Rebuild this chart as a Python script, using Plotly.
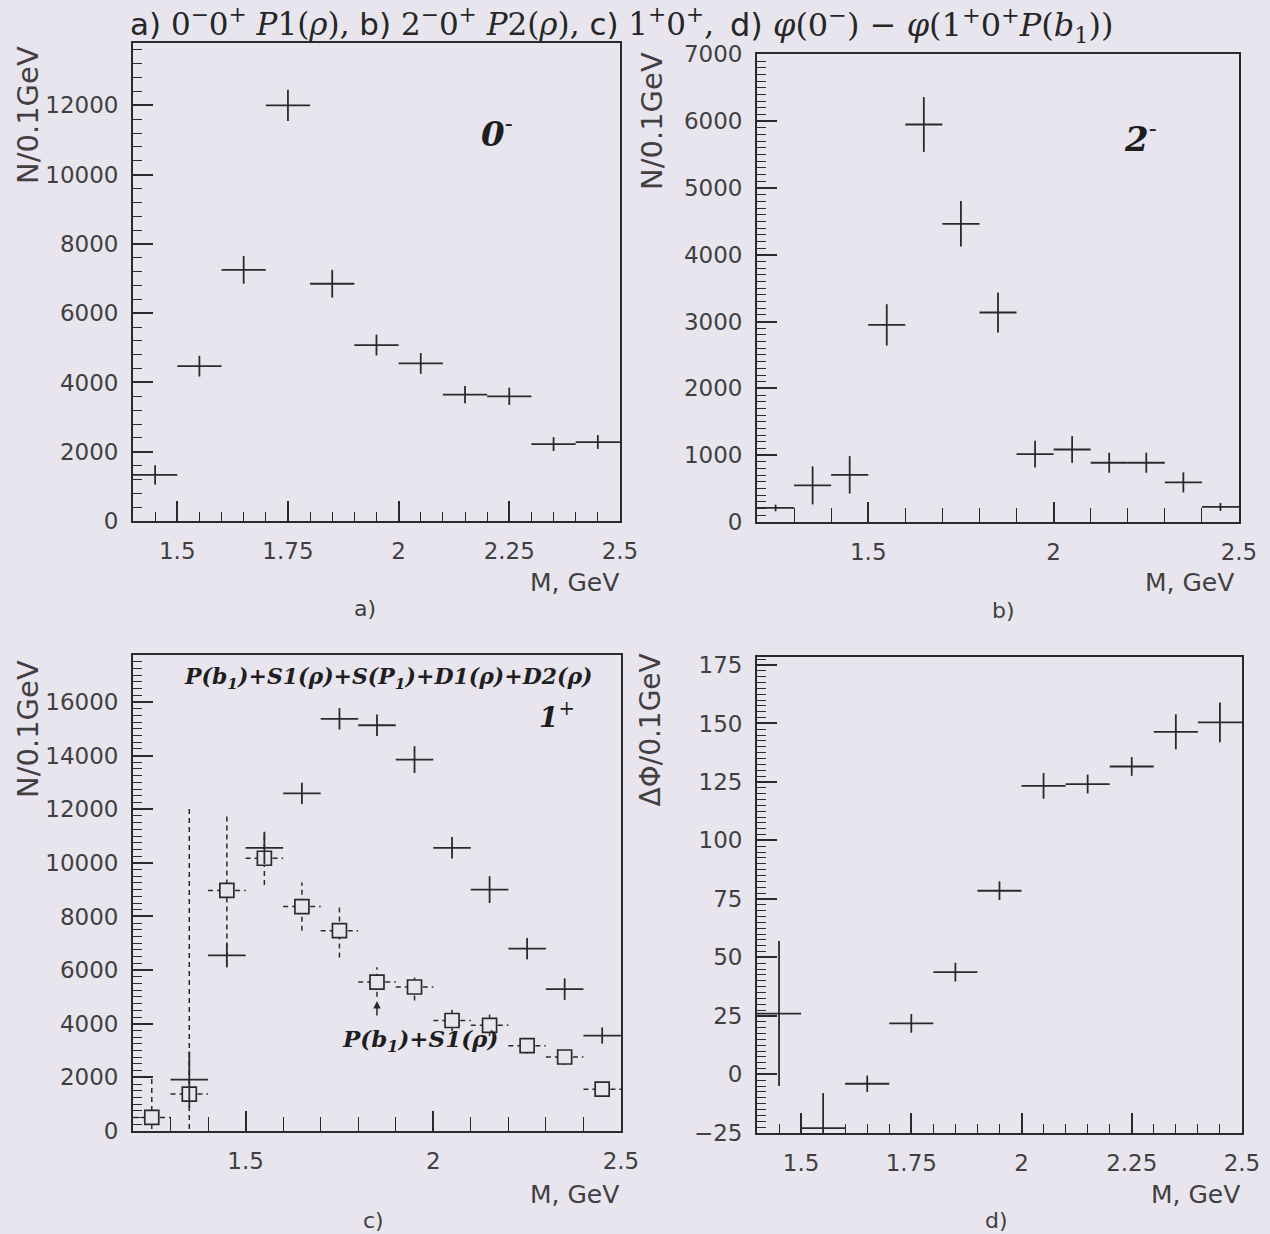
import plotly.graph_objects as go

BG = '#e9e5ef'
INK = '#2a2a2a'
TXT = '#404040'
W, H = 1270, 1234

# ---------------- data ----------------
# a) 0-0+ P1(rho)
a_m = [1.45, 1.55, 1.65, 1.75, 1.85, 1.95, 2.05, 2.15, 2.25, 2.35, 2.45]
a_n = [1330, 4470, 7250, 12000, 6850, 5080, 4550, 3650, 3600, 2220, 2280]
a_err = [280, 300, 400, 450, 400, 300, 300, 250, 250, 200, 200]

# b) 2-0+ P2(rho)
b_m = [1.25, 1.35, 1.45, 1.55, 1.65, 1.75, 1.85, 1.95, 2.05, 2.15, 2.25, 2.35, 2.45]
b_n = [210, 548, 706, 2950, 5950, 4463, 3136, 1017, 1085, 887, 887, 593, 226]
b_err = [50, 285, 280, 310, 410, 340, 300, 200, 200, 150, 150, 150, 60]

# c) 1+0+ : total P(b1)+S1(rho)+S(P1)+D1(rho)+D2(rho)
c_m = [1.35, 1.45, 1.55, 1.65, 1.75, 1.85, 1.95, 2.05, 2.15, 2.25, 2.35, 2.45]
c_tot = [1913, 6550, 10560, 12590, 15370, 15130, 13850, 10560, 9000, 6800, 5290, 3560]
c_tot_err = [1050, 450, 600, 400, 400, 400, 500, 400, 500, 400, 400, 300]
# c) 1+0+ : P(b1)+S1(rho)
c_sq_m = [1.25, 1.35, 1.45, 1.55, 1.65, 1.75, 1.85, 1.95, 2.05, 2.15, 2.25, 2.35, 2.45]
c_sq = [506, 1378, 8970, 10170, 8370, 7470, 5555, 5370, 4120, 3940, 3180, 2760, 1560]
c_sq_err = [1440, 10700, 2800, 1000, 900, 1000, 550, 500, 400, 400, 300, 300, 200]

# d) phi(0-) - phi(1+0+P(b1))
d_m = [1.45, 1.55, 1.65, 1.75, 1.85, 1.95, 2.05, 2.15, 2.25, 2.35, 2.45]
d_phi = [26, -23, -4, 21.8, 43.7, 78.5, 123.3, 124.1, 131.6, 146.4, 150.5]
d_err = [31, 15, 3.5, 4, 4, 4, 5.5, 4, 4, 7.5, 8.5]

HALF_BIN = 0.05


# ---------------- helpers ----------------
def px(x):
    return x / W


def py(y):
    return 1 - y / H


fig = go.Figure()


def crosses(xa, ya, x, y, e):
    fig.add_trace(go.Scatter(
        x=x, y=y, mode='markers', xaxis=xa, yaxis=ya,
        marker=dict(size=2, color=INK),
        error_x=dict(type='constant', value=HALF_BIN, width=0, thickness=1.8, color=INK),
        error_y=dict(type='data', array=e, width=0, thickness=1.8, color=INK),
        showlegend=False, hoverinfo='skip'))


def dashed_squares(xa, ya, x, y, e):
    vx, vy, hx, hy = [], [], [], []
    for xi, yi, ei in zip(x, y, e):
        vx += [xi, xi, None]
        vy += [yi - ei, yi + ei, None]
        hx += [xi - HALF_BIN, xi + HALF_BIN, None]
        hy += [yi, yi, None]
    for lx, ly in ((vx, vy), (hx, hy)):
        fig.add_trace(go.Scatter(
            x=lx, y=ly, mode='lines', xaxis=xa, yaxis=ya,
            line=dict(color=INK, width=1.5, dash='5px,4px'),
            showlegend=False, hoverinfo='skip'))
    fig.add_trace(go.Scatter(
        x=x, y=y, mode='markers', xaxis=xa, yaxis=ya,
        marker=dict(symbol='square', size=14, color=BG, line=dict(color=INK, width=1.7)),
        showlegend=False, hoverinfo='skip'))


crosses('x', 'y', a_m, a_n, a_err)
crosses('x2', 'y2', b_m, b_n, b_err)
dashed_squares('x3', 'y3', c_sq_m, c_sq, c_sq_err)
crosses('x3', 'y3', c_m, c_tot, c_tot_err)
crosses('x4', 'y4', d_m, d_phi, d_err)

TF = dict(family='DejaVu Sans', size=23, color=TXT)


def axis(domain, rng, dtick, tick0, mdtick, anchor, mlen=9, fmt=None):
    d = dict(domain=domain, range=rng, anchor=anchor, automargin=False,
             showline=True, linecolor=INK, linewidth=1.8, mirror=True,
             ticks='inside', ticklen=20, tickwidth=1.5, tickcolor=INK,
             dtick=dtick, tick0=tick0,
             minor=dict(dtick=mdtick, tick0=tick0, ticks='inside', ticklen=mlen,
                        tickwidth=1.3, tickcolor=INK, showgrid=False),
             showgrid=False, zeroline=False, tickfont=TF,
             ticklabelstandoff=8, fixedrange=True)
    if fmt:
        d['tickformat'] = fmt
    return d


xa_dom = [px(133), px(620)]
xb_dom = [px(757), px(1239)]
xc_dom = [px(133), px(621)]
xd_dom = [px(757), px(1242)]
ya_dom = [py(521), py(43)]
yb_dom = [py(522), py(54)]
yc_dom = [py(1131), py(655)]
yd_dom = [py(1133), py(657)]

fig.update_layout(
    width=W, height=H, autosize=False,
    margin=dict(l=0, r=0, t=0, b=0, pad=0),
    paper_bgcolor=BG, plot_bgcolor=BG,
    showlegend=False,
    xaxis=axis(xa_dom, [1.4, 2.5001], 0.25, 1.5, 0.05, 'y'),
    yaxis=axis(ya_dom, [0, 13800], 2000, 0, 400, 'x', fmt='d'),
    xaxis2=axis(xb_dom, [1.2, 2.5001], 0.5, 1.5, 0.1, 'y2', mlen=14),
    yaxis2=axis(yb_dom, [0, 7005], 1000, 0, 100, 'x2', fmt='d'),
    xaxis3=axis(xc_dom, [1.2, 2.5001], 0.5, 1.5, 0.1, 'y3', mlen=14),
    yaxis3=axis(yc_dom, [0, 17750], 2000, 0, 250, 'x3', fmt='d'),
    xaxis4=axis(xd_dom, [1.4, 2.5001], 0.25, 1.5, 0.05, 'y4'),
    yaxis4=axis(yd_dom, [-25.05, 178.4], 25, 0, 2.5, 'x4', fmt='d'),
)

ann = []
SANS = 'DejaVu Sans'
SERIF = 'DejaVu Serif'
HAND = 'DejaVu Serif'


def text(x, y, s, size, xanchor='center', yanchor='middle', font=SANS, angle=0, color=TXT):
    ann.append(dict(x=px(x), y=py(y), xref='paper', yref='paper', text=s, showarrow=False,
                    xanchor=xanchor, yanchor=yanchor, textangle=angle,
                    font=dict(family=font, size=size, color=color)))


def lab(s):
    return "<span style='font-family:DejaVu Sans'>%s</span>" % s


title_1 = (lab('a)') + " 0<sup>−</sup>0<sup>+</sup> <i>P</i>1(<i>ρ</i>), " +
           lab('b)') + " 2<sup>−</sup>0<sup>+</sup> <i>P</i>2(<i>ρ</i>), " +
           lab('c)') + " 1<sup>+</sup>0<sup>+</sup>,")
title_2 = (lab('d)') + " <i>φ</i>(0<sup>−</sup>) − <i>φ</i>(1<sup>+</sup>0<sup>+</sup>"
           "<i>P</i>(<i>b</i><sub>1</sub>))")
text(128, 0, title_1, 31, xanchor='left', yanchor='top', font=SERIF, color='#262626')
text(728, 0, title_2, 32, xanchor='left', yanchor='top', font=SERIF, color='#262626')

# axis titles
text(28, 44, 'N/0.1GeV', 29, yanchor='top', angle=-90)
text(652, 50, 'N/0.1GeV', 29, yanchor='top', angle=-90)
text(28, 658, 'N/0.1GeV', 29, yanchor='top', angle=-90)
text(650, 652, 'ΔΦ/0.1GeV', 28, yanchor='top', angle=-90)
for xr, yy in ((621, 582), (1236, 582), (621, 1194), (1242, 1194)):
    text(xr, yy, 'M, GeV', 25, xanchor='right')
text(365, 608, 'a)', 22)
text(1003, 610, 'b)', 22)
text(373, 1220, 'c)', 22)
text(996, 1220, 'd)', 22)

# handwritten notes
text(497, 132, '<b><i>0</i></b><sup>-</sup>', 34, font=HAND, color='#1e1e1e')
text(1140, 137, '<b><i>2</i></b><sup>-</sup>', 34, font=HAND, color='#1e1e1e')
text(388, 678, '<b><i>P(b<sub>1</sub>)+S1(ρ)+S(P<sub>1</sub>)+D1(ρ)+D2(ρ)</i></b>', 22,
     font=HAND, color='#1e1e1e')
text(557, 715, '<b><i>1</i></b><sup>+</sup>', 28, font=HAND, color='#1e1e1e')
text(420, 1040, '<b><i>P(b<sub>1</sub>)+S1(ρ)</i></b>', 23, font=HAND, color='#1e1e1e')

ann.append(dict(x=1.85, y=4850, xref='x3', yref='y3', text='', showarrow=True,
                ax=0, ay=16, arrowhead=2, arrowsize=1, arrowwidth=1.5, arrowcolor=INK))

fig.update_layout(annotations=ann)

fig.write_html(
    "out.html",
    config={'displayModeBar': False},
    post_script=("document.body.style.margin='0';document.body.style.padding='0';"
                 "document.body.style.overflow='hidden';"
                 "document.body.style.backgroundColor='%s';"
                 "document.documentElement.style.backgroundColor='%s';" % (BG, BG)))
